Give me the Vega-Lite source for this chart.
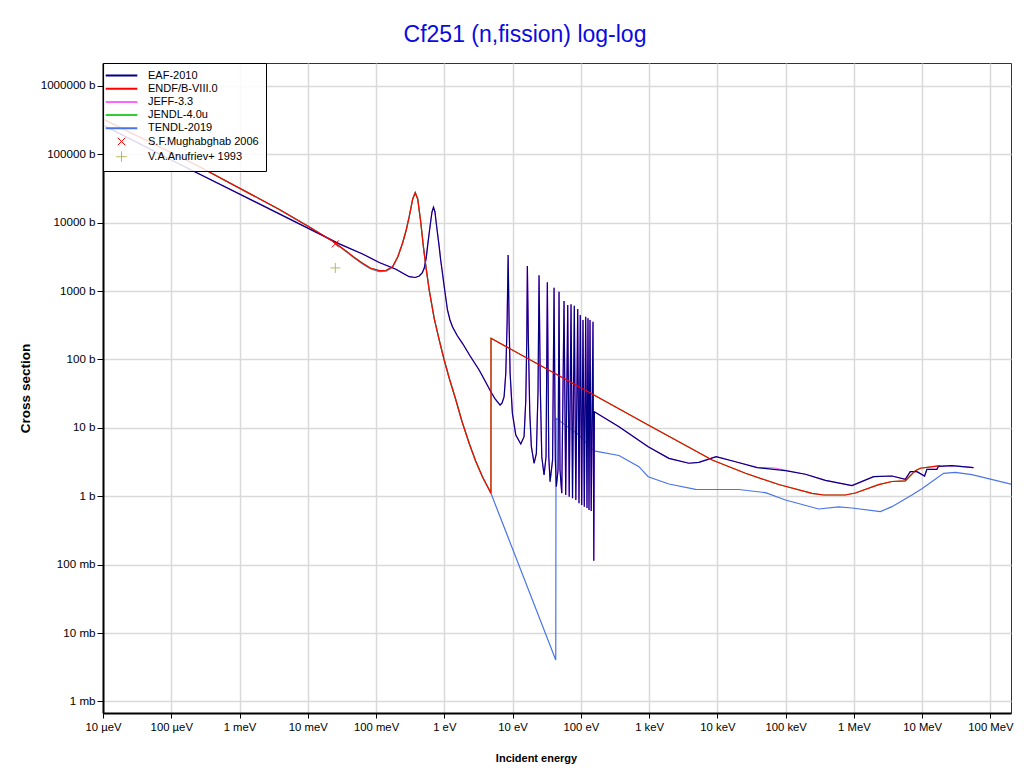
{
  "$schema": "https://vega.github.io/schema/vega-lite/v6.json",
  "autosize": "none",
  "padding": {"left": 103, "top": 63, "right": 13, "bottom": 61},
  "width": 908,
  "height": 650,
  "background": "white",
  "title": {"text": "Cf251 (n,fission) log-log", "color": "#0a0ae0", "fontSize": 23, "font": "Liberation Sans", "fontWeight": "normal", "anchor": "middle", "frame": "group", "offset": 16, "dx": -32},
  "config": {
    "view": {"stroke": "#333333", "strokeWidth": 1},
    "axis": {"labelFont": "Liberation Sans", "labelColor": "black", "titleFont": "Liberation Sans", "titleFontWeight": "bold", "titleColor": "black", "domainColor": "black", "domainWidth": 2, "tickColor": "black", "tickWidth": 1, "gridColor": "#d9d9d9", "gridWidth": 1.5, "labelOverlap": false, "labelFlush": false},
    "axisX": {"labelFontSize": 11.3, "titleFontSize": 11},
    "axisY": {"labelFontSize": 11.6, "titleFontSize": 13.5}
  },
  "data": {"values": [
    {"lib":"EAF-2010","E":1e-5,"xs":268000},{"lib":"EAF-2010","E":1.4e-4,"xs":69800},{"lib":"EAF-2010","E":0.02896,"xs":4900},{"lib":"EAF-2010","E":0.0635,"xs":3486},{"lib":"EAF-2010","E":0.1114,"xs":2619},{"lib":"EAF-2010","E":0.1955,"xs":2083},{"lib":"EAF-2010","E":0.2586,"xs":1778},{"lib":"EAF-2010","E":0.306,"xs":1624},{"lib":"EAF-2010","E":0.3747,"xs":1581},{"lib":"EAF-2010","E":0.4285,"xs":1663},{"lib":"EAF-2010","E":0.4742,"xs":1839},{"lib":"EAF-2010","E":0.507,"xs":2154},{"lib":"EAF-2010","E":0.5427,"xs":3047},{"lib":"EAF-2010","E":0.567,"xs":4458},{"lib":"EAF-2010","E":0.6003,"xs":7069},{"lib":"EAF-2010","E":0.6356,"xs":10950},{"lib":"EAF-2010","E":0.6598,"xs":14340},{"lib":"EAF-2010","E":0.694,"xs":16800},{"lib":"EAF-2010","E":0.7299,"xs":14340},{"lib":"EAF-2010","E":0.752,"xs":10950},{"lib":"EAF-2010","E":0.7936,"xs":7069},{"lib":"EAF-2010","E":0.841,"xs":4458},{"lib":"EAF-2010","E":0.8844,"xs":2849},{"lib":"EAF-2010","E":0.9395,"xs":1821},{"lib":"EAF-2010","E":1.012,"xs":1038},{"lib":"EAF-2010","E":1.112,"xs":529},{"lib":"EAF-2010","E":1.21,"xs":378},{"lib":"EAF-2010","E":1.316,"xs":301.8},{"lib":"EAF-2010","E":1.542,"xs":224.4},{"lib":"EAF-2010","E":1.843,"xs":172.5},{"lib":"EAF-2010","E":2.388,"xs":112.5},{"lib":"EAF-2010","E":3.235,"xs":70.2},{"lib":"EAF-2010","E":3.96,"xs":48.5},{"lib":"EAF-2010","E":4.8,"xs":33.8},{"lib":"EAF-2010","E":5.55,"xs":26.5},{"lib":"EAF-2010","E":6.565,"xs":21.6},{"lib":"EAF-2010","E":7.02,"xs":23.1},{"lib":"EAF-2010","E":7.51,"xs":28.6},{"lib":"EAF-2010","E":7.95,"xs":62.8},{"lib":"EAF-2010","E":8.31,"xs":338},{"lib":"EAF-2010","E":8.6,"xs":3371},{"lib":"EAF-2010","E":8.89,"xs":340},{"lib":"EAF-2010","E":9.19,"xs":63.5},{"lib":"EAF-2010","E":9.93,"xs":16.35},{"lib":"EAF-2010","E":11.14,"xs":7.87},{"lib":"EAF-2010","E":13.18,"xs":5.82},{"lib":"EAF-2010","E":14.73,"xs":7.43},{"lib":"EAF-2010","E":15.61,"xs":25.6},{"lib":"EAF-2010","E":16.14,"xs":192.8},{"lib":"EAF-2010","E":16.46,"xs":2328},{"lib":"EAF-2010","E":17.03,"xs":192.8},{"lib":"EAF-2010","E":17.85,"xs":16.5},{"lib":"EAF-2010","E":18.84,"xs":5.31},{"lib":"EAF-2010","E":20.63,"xs":3.04},{"lib":"EAF-2010","E":22.3,"xs":4.25},{"lib":"EAF-2010","E":23.6,"xs":35.8},{"lib":"EAF-2010","E":24.4,"xs":1702},{"lib":"EAF-2010","E":25.5,"xs":35.8},{"lib":"EAF-2010","E":26.75,"xs":3.79},{"lib":"EAF-2010","E":28.9,"xs":2.05},{"lib":"EAF-2010","E":30.9,"xs":3.79},{"lib":"EAF-2010","E":32.3,"xs":1345},{"lib":"EAF-2010","E":33.9,"xs":3.79},{"lib":"EAF-2010","E":35.4,"xs":1.635},{"lib":"EAF-2010","E":38.5,"xs":3.39},{"lib":"EAF-2010","E":40.5,"xs":1121},{"lib":"EAF-2010","E":42.3,"xs":3.39},{"lib":"EAF-2010","E":43.7,"xs":1.38},{"lib":"EAF-2010","E":46.3,"xs":2.42},{"lib":"EAF-2010","E":47.9,"xs":980},{"lib":"EAF-2010","E":49.5,"xs":2.42},{"lib":"EAF-2010","E":52.5,"xs":1.106},{"lib":"EAF-2010","E":56.7,"xs":716},{"lib":"EAF-2010","E":60,"xs":1.045},{"lib":"EAF-2010","E":64.2,"xs":626},{"lib":"EAF-2010","E":67.5,"xs":0.987},{"lib":"EAF-2010","E":71.8,"xs":641},{"lib":"EAF-2010","E":75.5,"xs":0.935},{"lib":"EAF-2010","E":80.2,"xs":612},{"lib":"EAF-2010","E":84.4,"xs":0.883},{"lib":"EAF-2010","E":89.9,"xs":547},{"lib":"EAF-2010","E":93.95,"xs":0.79},{"lib":"EAF-2010","E":98.1,"xs":447},{"lib":"EAF-2010","E":102.9,"xs":0.746},{"lib":"EAF-2010","E":107.5,"xs":378},{"lib":"EAF-2010","E":112.3,"xs":0.705},{"lib":"EAF-2010","E":117.7,"xs":423},{"lib":"EAF-2010","E":123,"xs":0.674},{"lib":"EAF-2010","E":127.2,"xs":400},{"lib":"EAF-2010","E":131.6,"xs":0.63},{"lib":"EAF-2010","E":136.1,"xs":378},{"lib":"EAF-2010","E":141.7,"xs":0.61},{"lib":"EAF-2010","E":150.6,"xs":357},{"lib":"EAF-2010","E":154.7,"xs":0.1145},{"lib":"EAF-2010","E":157.9,"xs":17.25},{"lib":"EAF-2010","E":361.6,"xs":10.41},{"lib":"EAF-2010","E":970,"xs":5.31},{"lib":"EAF-2010","E":1949,"xs":3.59},{"lib":"EAF-2010","E":3822,"xs":3.04},{"lib":"EAF-2010","E":5354,"xs":3.14},{"lib":"EAF-2010","E":9587,"xs":3.79},{"lib":"EAF-2010","E":18430,"xs":3.2},{"lib":"EAF-2010","E":38150,"xs":2.62},{"lib":"EAF-2010","E":99330,"xs":2.37},{"lib":"EAF-2010","E":194900,"xs":2.1},{"lib":"EAF-2010","E":382200,"xs":1.71},{"lib":"EAF-2010","E":936600,"xs":1.43},{"lib":"EAF-2010","E":1945000,"xs":1.934},{"lib":"EAF-2010","E":3604000,"xs":1.98},{"lib":"EAF-2010","E":5660000,"xs":1.772},{"lib":"EAF-2010","E":6700000,"xs":2.29},{"lib":"EAF-2010","E":8370000,"xs":2.29},{"lib":"EAF-2010","E":10850000,"xs":1.98},{"lib":"EAF-2010","E":11720000,"xs":2.48},{"lib":"EAF-2010","E":16410000,"xs":2.48},{"lib":"EAF-2010","E":17380000,"xs":2.745},{"lib":"EAF-2010","E":27200000,"xs":2.8},{"lib":"EAF-2010","E":56500000,"xs":2.62},

    {"lib":"JEFF-3.3","E":1e-5,"xs":268000},{"lib":"JEFF-3.3","E":1.4e-4,"xs":69800},{"lib":"JEFF-3.3","E":0.02896,"xs":4900},{"lib":"JEFF-3.3","E":0.0635,"xs":3486},{"lib":"JEFF-3.3","E":0.1114,"xs":2619},{"lib":"JEFF-3.3","E":0.1955,"xs":2083},{"lib":"JEFF-3.3","E":0.2586,"xs":1778},{"lib":"JEFF-3.3","E":0.306,"xs":1624},{"lib":"JEFF-3.3","E":0.3747,"xs":1581},{"lib":"JEFF-3.3","E":0.4285,"xs":1663},{"lib":"JEFF-3.3","E":0.4742,"xs":1839},{"lib":"JEFF-3.3","E":0.507,"xs":2154},{"lib":"JEFF-3.3","E":0.5427,"xs":3047},{"lib":"JEFF-3.3","E":0.567,"xs":4458},{"lib":"JEFF-3.3","E":0.6003,"xs":7069},{"lib":"JEFF-3.3","E":0.6356,"xs":10950},{"lib":"JEFF-3.3","E":0.6598,"xs":14340},{"lib":"JEFF-3.3","E":0.694,"xs":16800},{"lib":"JEFF-3.3","E":0.7299,"xs":14340},{"lib":"JEFF-3.3","E":0.752,"xs":10950},{"lib":"JEFF-3.3","E":0.7936,"xs":7069},{"lib":"JEFF-3.3","E":0.841,"xs":4458},{"lib":"JEFF-3.3","E":0.8844,"xs":2849},{"lib":"JEFF-3.3","E":0.9395,"xs":1821},{"lib":"JEFF-3.3","E":1.012,"xs":1038},{"lib":"JEFF-3.3","E":1.112,"xs":529},{"lib":"JEFF-3.3","E":1.21,"xs":378},{"lib":"JEFF-3.3","E":1.316,"xs":301.8},{"lib":"JEFF-3.3","E":1.542,"xs":224.4},{"lib":"JEFF-3.3","E":1.843,"xs":172.5},{"lib":"JEFF-3.3","E":2.388,"xs":112.5},{"lib":"JEFF-3.3","E":3.235,"xs":70.2},{"lib":"JEFF-3.3","E":3.96,"xs":48.5},{"lib":"JEFF-3.3","E":4.8,"xs":33.8},{"lib":"JEFF-3.3","E":5.55,"xs":26.5},{"lib":"JEFF-3.3","E":6.565,"xs":21.6},{"lib":"JEFF-3.3","E":7.02,"xs":23.1},{"lib":"JEFF-3.3","E":7.51,"xs":28.6},{"lib":"JEFF-3.3","E":7.95,"xs":62.8},{"lib":"JEFF-3.3","E":8.31,"xs":338},{"lib":"JEFF-3.3","E":8.6,"xs":3371},{"lib":"JEFF-3.3","E":8.89,"xs":340},{"lib":"JEFF-3.3","E":9.19,"xs":63.5},{"lib":"JEFF-3.3","E":9.93,"xs":16.35},{"lib":"JEFF-3.3","E":11.14,"xs":7.87},{"lib":"JEFF-3.3","E":13.18,"xs":5.82},{"lib":"JEFF-3.3","E":14.73,"xs":7.43},{"lib":"JEFF-3.3","E":15.61,"xs":25.6},{"lib":"JEFF-3.3","E":16.14,"xs":192.8},{"lib":"JEFF-3.3","E":16.46,"xs":2328},{"lib":"JEFF-3.3","E":17.03,"xs":192.8},{"lib":"JEFF-3.3","E":17.85,"xs":16.5},{"lib":"JEFF-3.3","E":18.84,"xs":5.31},{"lib":"JEFF-3.3","E":20.63,"xs":3.04},{"lib":"JEFF-3.3","E":22.3,"xs":4.25},{"lib":"JEFF-3.3","E":23.6,"xs":35.8},{"lib":"JEFF-3.3","E":24.4,"xs":1702},{"lib":"JEFF-3.3","E":25.5,"xs":35.8},{"lib":"JEFF-3.3","E":26.75,"xs":3.79},{"lib":"JEFF-3.3","E":28.9,"xs":2.05},{"lib":"JEFF-3.3","E":30.9,"xs":3.79},{"lib":"JEFF-3.3","E":32.3,"xs":1345},{"lib":"JEFF-3.3","E":33.9,"xs":3.79},{"lib":"JEFF-3.3","E":35.4,"xs":1.635},{"lib":"JEFF-3.3","E":38.5,"xs":3.39},{"lib":"JEFF-3.3","E":40.5,"xs":1121},{"lib":"JEFF-3.3","E":42.3,"xs":3.39},{"lib":"JEFF-3.3","E":43.7,"xs":1.38},{"lib":"JEFF-3.3","E":46.3,"xs":2.42},{"lib":"JEFF-3.3","E":47.9,"xs":980},{"lib":"JEFF-3.3","E":49.5,"xs":2.42},{"lib":"JEFF-3.3","E":52.5,"xs":1.106},{"lib":"JEFF-3.3","E":56.7,"xs":716},{"lib":"JEFF-3.3","E":60,"xs":1.045},{"lib":"JEFF-3.3","E":64.2,"xs":626},{"lib":"JEFF-3.3","E":67.5,"xs":0.987},{"lib":"JEFF-3.3","E":71.8,"xs":641},{"lib":"JEFF-3.3","E":75.5,"xs":0.935},{"lib":"JEFF-3.3","E":80.2,"xs":612},{"lib":"JEFF-3.3","E":84.4,"xs":0.883},{"lib":"JEFF-3.3","E":89.9,"xs":547},{"lib":"JEFF-3.3","E":93.95,"xs":0.79},{"lib":"JEFF-3.3","E":98.1,"xs":447},{"lib":"JEFF-3.3","E":102.9,"xs":0.746},{"lib":"JEFF-3.3","E":107.5,"xs":378},{"lib":"JEFF-3.3","E":112.3,"xs":0.705},{"lib":"JEFF-3.3","E":117.7,"xs":423},{"lib":"JEFF-3.3","E":123,"xs":0.674},{"lib":"JEFF-3.3","E":127.2,"xs":400},{"lib":"JEFF-3.3","E":131.6,"xs":0.63},{"lib":"JEFF-3.3","E":136.1,"xs":378},{"lib":"JEFF-3.3","E":141.7,"xs":0.61},{"lib":"JEFF-3.3","E":150.6,"xs":357},{"lib":"JEFF-3.3","E":154.7,"xs":0.1145},{"lib":"JEFF-3.3","E":157.9,"xs":17.25},{"lib":"JEFF-3.3","E":361.6,"xs":10.41},{"lib":"JEFF-3.3","E":970,"xs":5.31},{"lib":"JEFF-3.3","E":1949,"xs":3.59},{"lib":"JEFF-3.3","E":3822,"xs":3.04},{"lib":"JEFF-3.3","E":5354,"xs":3.14},{"lib":"JEFF-3.3","E":9587,"xs":3.79},{"lib":"JEFF-3.3","E":18430,"xs":3.2},{"lib":"JEFF-3.3","E":38150,"xs":2.66},{"lib":"JEFF-3.3","E":70000,"xs":2.59},{"lib":"JEFF-3.3","E":99330,"xs":2.4},{"lib":"JEFF-3.3","E":194900,"xs":2.1},{"lib":"JEFF-3.3","E":382200,"xs":1.71},{"lib":"JEFF-3.3","E":936600,"xs":1.43},{"lib":"JEFF-3.3","E":1945000,"xs":1.934},{"lib":"JEFF-3.3","E":3604000,"xs":1.98},{"lib":"JEFF-3.3","E":5660000,"xs":1.772},{"lib":"JEFF-3.3","E":6700000,"xs":2.29},{"lib":"JEFF-3.3","E":8370000,"xs":2.29},{"lib":"JEFF-3.3","E":10850000,"xs":1.98},{"lib":"JEFF-3.3","E":11720000,"xs":2.48},{"lib":"JEFF-3.3","E":16410000,"xs":2.48},{"lib":"JEFF-3.3","E":17380000,"xs":2.745},{"lib":"JEFF-3.3","E":27200000,"xs":2.8},{"lib":"JEFF-3.3","E":56500000,"xs":2.62},

    {"lib":"ENDF/B-VIII.0","E":1e-5,"xs":328000},{"lib":"ENDF/B-VIII.0","E":2.317e-4,"xs":69700},{"lib":"ENDF/B-VIII.0","E":3.835e-3,"xs":15600},{"lib":"ENDF/B-VIII.0","E":0.01054,"xs":8650},{"lib":"ENDF/B-VIII.0","E":0.02287,"xs":5402},{"lib":"ENDF/B-VIII.0","E":0.03628,"xs":3858},{"lib":"ENDF/B-VIII.0","E":0.04802,"xs":3099},{"lib":"ENDF/B-VIII.0","E":0.0635,"xs":2550},{"lib":"ENDF/B-VIII.0","E":0.0823,"xs":2176},{"lib":"ENDF/B-VIII.0","E":0.1114,"xs":1988},{"lib":"ENDF/B-VIII.0","E":0.141,"xs":2015},{"lib":"ENDF/B-VIII.0","E":0.1743,"xs":2273},{"lib":"ENDF/B-VIII.0","E":0.2077,"xs":3151},{"lib":"ENDF/B-VIII.0","E":0.2442,"xs":4998},{"lib":"ENDF/B-VIII.0","E":0.2766,"xs":7822},{"lib":"ENDF/B-VIII.0","E":0.306,"xs":12240},{"lib":"ENDF/B-VIII.0","E":0.3443,"xs":22210},{"lib":"ENDF/B-VIII.0","E":0.3747,"xs":27460},{"lib":"ENDF/B-VIII.0","E":0.4074,"xs":22210},{"lib":"ENDF/B-VIII.0","E":0.4538,"xs":9800},{"lib":"ENDF/B-VIII.0","E":0.4905,"xs":4721},{"lib":"ENDF/B-VIII.0","E":0.537,"xs":2273},{"lib":"ENDF/B-VIII.0","E":0.6003,"xs":1038},{"lib":"ENDF/B-VIII.0","E":0.7103,"xs":400},{"lib":"ENDF/B-VIII.0","E":0.841,"xs":192.8},{"lib":"ENDF/B-VIII.0","E":0.995,"xs":98.3},{"lib":"ENDF/B-VIII.0","E":1.178,"xs":53.6},{"lib":"ENDF/B-VIII.0","E":1.476,"xs":25.6},{"lib":"ENDF/B-VIII.0","E":1.824,"xs":12.2},{"lib":"ENDF/B-VIII.0","E":2.31,"xs":5.955},{"lib":"ENDF/B-VIII.0","E":2.875,"xs":3.28},{"lib":"ENDF/B-VIII.0","E":3.615,"xs":1.934},{"lib":"ENDF/B-VIII.0","E":4.82,"xs":1.106},{"lib":"ENDF/B-VIII.0","E":4.83,"xs":204},{"lib":"ENDF/B-VIII.0","E":155.7,"xs":30.3},{"lib":"ENDF/B-VIII.0","E":970,"xs":11.03},{"lib":"ENDF/B-VIII.0","E":2729,"xs":6.28},{"lib":"ENDF/B-VIII.0","E":8380,"xs":3.39},{"lib":"ENDF/B-VIII.0","E":25820,"xs":2.17},{"lib":"ENDF/B-VIII.0","E":79260,"xs":1.487},{"lib":"ENDF/B-VIII.0","E":243300,"xs":1.106},{"lib":"ENDF/B-VIII.0","E":361000,"xs":1.045},{"lib":"ENDF/B-VIII.0","E":749700,"xs":1.045},{"lib":"ENDF/B-VIII.0","E":1050000,"xs":1.117},{"lib":"ENDF/B-VIII.0","E":2302000,"xs":1.478},{"lib":"ENDF/B-VIII.0","E":3604000,"xs":1.645},{"lib":"ENDF/B-VIII.0","E":5660000,"xs":1.685},{"lib":"ENDF/B-VIII.0","E":7930000,"xs":2.37},{"lib":"ENDF/B-VIII.0","E":9380000,"xs":2.57},{"lib":"ENDF/B-VIII.0","E":18400000,"xs":2.8},

    {"lib":"JENDL-4.0u","E":1e-5,"xs":328000},{"lib":"JENDL-4.0u","E":2.317e-4,"xs":69700},{"lib":"JENDL-4.0u","E":3.835e-3,"xs":15600},{"lib":"JENDL-4.0u","E":0.01054,"xs":8650},{"lib":"JENDL-4.0u","E":0.02287,"xs":5402},{"lib":"JENDL-4.0u","E":0.03628,"xs":3858},{"lib":"JENDL-4.0u","E":0.04802,"xs":3099},{"lib":"JENDL-4.0u","E":0.0635,"xs":2550},{"lib":"JENDL-4.0u","E":0.0823,"xs":2176},{"lib":"JENDL-4.0u","E":0.1114,"xs":1988},{"lib":"JENDL-4.0u","E":0.141,"xs":2015},{"lib":"JENDL-4.0u","E":0.1743,"xs":2273},{"lib":"JENDL-4.0u","E":0.2077,"xs":3151},{"lib":"JENDL-4.0u","E":0.2442,"xs":4998},{"lib":"JENDL-4.0u","E":0.2766,"xs":7822},{"lib":"JENDL-4.0u","E":0.306,"xs":12240},{"lib":"JENDL-4.0u","E":0.3443,"xs":22210},{"lib":"JENDL-4.0u","E":0.3747,"xs":27460},{"lib":"JENDL-4.0u","E":0.4074,"xs":22210},{"lib":"JENDL-4.0u","E":0.4538,"xs":9800},{"lib":"JENDL-4.0u","E":0.4905,"xs":4721},{"lib":"JENDL-4.0u","E":0.537,"xs":2273},{"lib":"JENDL-4.0u","E":0.6003,"xs":1038},{"lib":"JENDL-4.0u","E":0.7103,"xs":400},{"lib":"JENDL-4.0u","E":0.841,"xs":192.8},{"lib":"JENDL-4.0u","E":0.995,"xs":98.3},{"lib":"JENDL-4.0u","E":1.178,"xs":53.6},{"lib":"JENDL-4.0u","E":1.476,"xs":25.6},{"lib":"JENDL-4.0u","E":1.824,"xs":12.2},{"lib":"JENDL-4.0u","E":2.31,"xs":5.955},{"lib":"JENDL-4.0u","E":2.875,"xs":3.28},{"lib":"JENDL-4.0u","E":3.615,"xs":1.934},{"lib":"JENDL-4.0u","E":4.82,"xs":1.106},{"lib":"JENDL-4.0u","E":4.83,"xs":204},{"lib":"JENDL-4.0u","E":155.7,"xs":30.3},{"lib":"JENDL-4.0u","E":970,"xs":11.03},{"lib":"JENDL-4.0u","E":2729,"xs":6.28},{"lib":"JENDL-4.0u","E":8380,"xs":3.39},{"lib":"JENDL-4.0u","E":25820,"xs":2.17},{"lib":"JENDL-4.0u","E":79260,"xs":1.487},{"lib":"JENDL-4.0u","E":243300,"xs":1.106},{"lib":"JENDL-4.0u","E":361000,"xs":1.045},{"lib":"JENDL-4.0u","E":749700,"xs":1.045},{"lib":"JENDL-4.0u","E":1050000,"xs":1.117},{"lib":"JENDL-4.0u","E":2302000,"xs":1.478},{"lib":"JENDL-4.0u","E":3604000,"xs":1.645},{"lib":"JENDL-4.0u","E":5660000,"xs":1.685},{"lib":"JENDL-4.0u","E":7930000,"xs":2.37},{"lib":"JENDL-4.0u","E":9380000,"xs":2.57},{"lib":"JENDL-4.0u","E":18400000,"xs":2.8},

    {"lib":"TENDL-2019","E":1e-5,"xs":328000},{"lib":"TENDL-2019","E":2.317e-4,"xs":69700},{"lib":"TENDL-2019","E":3.835e-3,"xs":15600},{"lib":"TENDL-2019","E":0.01054,"xs":8650},{"lib":"TENDL-2019","E":0.02287,"xs":5402},{"lib":"TENDL-2019","E":0.03628,"xs":3800},{"lib":"TENDL-2019","E":0.04802,"xs":3050},{"lib":"TENDL-2019","E":0.0635,"xs":2480},{"lib":"TENDL-2019","E":0.0823,"xs":2120},{"lib":"TENDL-2019","E":0.1114,"xs":1930},{"lib":"TENDL-2019","E":0.141,"xs":1960},{"lib":"TENDL-2019","E":0.1743,"xs":2230},{"lib":"TENDL-2019","E":0.2077,"xs":3151},{"lib":"TENDL-2019","E":0.2442,"xs":4998},{"lib":"TENDL-2019","E":0.2766,"xs":7822},{"lib":"TENDL-2019","E":0.306,"xs":12240},{"lib":"TENDL-2019","E":0.3443,"xs":22210},{"lib":"TENDL-2019","E":0.3747,"xs":27460},{"lib":"TENDL-2019","E":0.4074,"xs":22210},{"lib":"TENDL-2019","E":0.4538,"xs":9800},{"lib":"TENDL-2019","E":0.4905,"xs":4721},{"lib":"TENDL-2019","E":0.537,"xs":2273},{"lib":"TENDL-2019","E":0.6003,"xs":1038},{"lib":"TENDL-2019","E":0.7103,"xs":400},{"lib":"TENDL-2019","E":0.841,"xs":192.8},{"lib":"TENDL-2019","E":0.995,"xs":98.3},{"lib":"TENDL-2019","E":1.178,"xs":53.6},{"lib":"TENDL-2019","E":1.476,"xs":25.6},{"lib":"TENDL-2019","E":1.824,"xs":12.2},{"lib":"TENDL-2019","E":2.31,"xs":5.955},{"lib":"TENDL-2019","E":2.875,"xs":3.28},{"lib":"TENDL-2019","E":3.615,"xs":1.934},{"lib":"TENDL-2019","E":4.82,"xs":1.106},{"lib":"TENDL-2019","E":42.9,"xs":0.004045},{"lib":"TENDL-2019","E":43.3,"xs":13.8},{"lib":"TENDL-2019","E":93.95,"xs":7.87},{"lib":"TENDL-2019","E":155.7,"xs":4.6},{"lib":"TENDL-2019","E":361.6,"xs":3.95},{"lib":"TENDL-2019","E":709,"xs":2.71},{"lib":"TENDL-2019","E":970,"xs":1.934},{"lib":"TENDL-2019","E":1949,"xs":1.513},{"lib":"TENDL-2019","E":4791,"xs":1.266},{"lib":"TENDL-2019","E":20600,"xs":1.257},{"lib":"TENDL-2019","E":50650,"xs":1.129},{"lib":"TENDL-2019","E":99330,"xs":0.883},{"lib":"TENDL-2019","E":305000,"xs":0.652},{"lib":"TENDL-2019","E":598000,"xs":0.698},{"lib":"TENDL-2019","E":936600,"xs":0.674},{"lib":"TENDL-2019","E":2438000,"xs":0.596},{"lib":"TENDL-2019","E":3604000,"xs":0.705},{"lib":"TENDL-2019","E":7070000,"xs":1.045},{"lib":"TENDL-2019","E":9900000,"xs":1.291},{"lib":"TENDL-2019","E":20560000,"xs":2.17},{"lib":"TENDL-2019","E":30500000,"xs":2.23},{"lib":"TENDL-2019","E":53400000,"xs":2.07},{"lib":"TENDL-2019","E":200000000,"xs":1.51},

    {"lib":"S.F.Mughabghab 2006","E":0.0253,"xs":4895},
    {"lib":"V.A.Anufriev+ 1993","E":0.0253,"xs":2180}
  ]},
  "encoding": {
    "x": {"field": "E", "type": "quantitative", "title": "Incident energy",
      "scale": {"type": "log", "domain": [1e-5, 2e8], "nice": false},
      "axis": {"values": [1e-5,1e-4,1e-3,1e-2,1e-1,1,10,100,1000,1e4,1e5,1e6,1e7,1e8], "tickSize": 5, "labelPadding": 3, "grid": true,
        "labelExpr": "datum.value < 9e-4 ? format(datum.value*1e6,'d') + ' µeV' : datum.value < 0.9 ? format(datum.value*1e3,'d') + ' meV' : datum.value < 900 ? format(datum.value,'d') + ' eV' : datum.value < 9e5 ? format(datum.value/1e3,'d') + ' keV' : format(datum.value/1e6,'d') + ' MeV'",
        "titleX": 433, "titleY": 45, "titleBaseline": "middle", "titleAlign": "center"}},
    "y": {"field": "xs", "type": "quantitative", "title": "Cross section",
      "scale": {"type": "log", "domain": [6.79e-4, 2.16e6], "nice": false},
      "axis": {"values": [1e-3,1e-2,1e-1,1,10,100,1000,1e4,1e5,1e6], "tickSize": 6, "labelPadding": 2, "grid": true,
        "labelExpr": "datum.value >= 0.99 ? format(datum.value,'d') + ' b' : format(datum.value*1000,'d') + ' mb'",
        "titleX": -78, "titleY": 325, "titleBaseline": "middle", "titleAlign": "center", "titleAngle": 270}},
    "color": {"field": "lib", "type": "nominal",
      "scale": {"domain": ["EAF-2010","ENDF/B-VIII.0","JEFF-3.3","JENDL-4.0u","TENDL-2019","S.F.Mughabghab 2006","V.A.Anufriev+ 1993"],
                "range": ["#000080","#ff0000","#ff66ff","#33cc33","#4a74e8","#ff0000","#b8b860"]},
      "legend": {"title": null, "orient": "top-left", "offset": 0, "padding": 7, "strokeColor": "black", "fillColor": "rgba(255,255,255,0.85)",
        "symbolSize": 175, "symbolOffset": 6, "labelOffset": 21, "rowPadding": 1.2, "symbolType": "stroke", "symbolStrokeWidth": 2, "symbolOpacity": 1,
        "labelFont": "Liberation Sans", "labelFontSize": 11, "labelColor": "black", "labelLimit": 200,
        "encode": {"symbols": {"update": {
          "shape": {"signal": "datum.value === 'S.F.Mughabghab 2006' ? 'M-0.56,-0.56L0.56,0.56M-0.56,0.56L0.56,-0.56' : datum.value === 'V.A.Anufriev+ 1993' ? 'M-0.8,0L0.8,0M0,-0.8L0,0.8' : 'M-2.39,0L2.39,0'"},
          "strokeWidth": {"signal": "datum.value === 'S.F.Mughabghab 2006' || datum.value === 'V.A.Anufriev+ 1993' ? 1 : 2"},
          "fill": {"value": "transparent"}}}}}}
  },
  "layer": [
    {"transform": [{"filter": "datum.lib === 'TENDL-2019'"}], "mark": {"type": "line", "strokeWidth": 1.2, "clip": true}},
    {"transform": [{"filter": "datum.lib === 'JENDL-4.0u'"}], "mark": {"type": "line", "strokeWidth": 1.2, "clip": true}},
    {"transform": [{"filter": "datum.lib === 'JEFF-3.3'"}], "mark": {"type": "line", "strokeWidth": 1.2, "clip": true}},
    {"transform": [{"filter": "datum.lib === 'EAF-2010'"}], "mark": {"type": "line", "strokeWidth": 1.2, "clip": true}},
    {"transform": [{"filter": "datum.lib === 'ENDF/B-VIII.0'"}], "mark": {"type": "line", "strokeWidth": 1.2, "clip": true}},
    {"transform": [{"filter": "datum.lib === 'S.F.Mughabghab 2006'"}], "mark": {"type": "point", "shape": "M-1,-1L1,1M-1,1L1,-1", "filled": false, "size": 49, "strokeWidth": 1, "opacity": 1}},
    {"transform": [{"filter": "datum.lib === 'V.A.Anufriev+ 1993'"}], "mark": {"type": "point", "shape": "M-1,0L1,0M0,-1L0,1", "filled": false, "size": 100, "strokeWidth": 1, "opacity": 1}}
  ]
}
